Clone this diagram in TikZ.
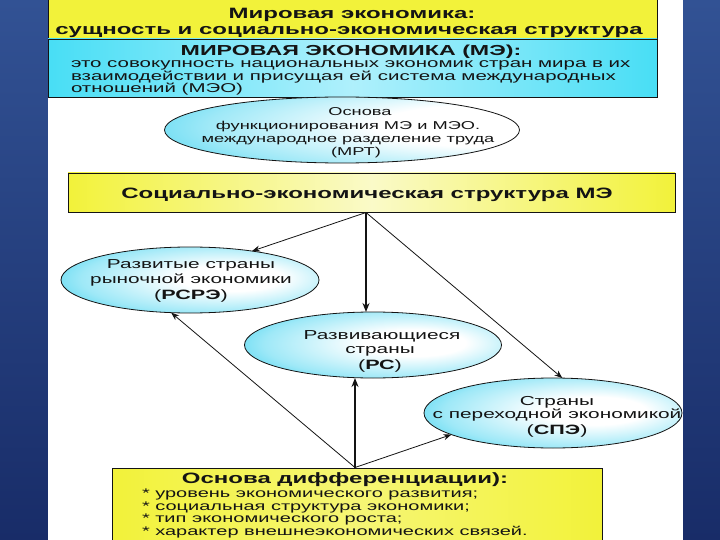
\documentclass[tikz,border=0pt]{standalone}
\usepackage{fontspec}
\setmainfont{Liberation Sans}[FakeStretch=1.6]
\usetikzlibrary{arrows.meta,shapes.geometric}
\definecolor{navyT}{RGB}{50,82,148}
\definecolor{navyB}{RGB}{24,44,104}
\definecolor{yel}{RGB}{242,242,58}
\definecolor{yelpale}{RGB}{250,250,200}
\definecolor{cyB}{RGB}{72,222,245}
\definecolor{cyL}{RGB}{175,240,252}
\definecolor{cyE}{RGB}{40,205,238}
\definecolor{ink}{RGB}{20,20,20}
\pgfdeclareradialshading{ellA}{\pgfpoint{10bp}{2bp}}{color(0bp)=(white); color(10bp)=(white); color(26bp)=(cyE!45!white); color(38bp)=(cyE); color(50bp)=(cyE)}
\pgfdeclareradialshading{ellB}{\pgfpoint{26bp}{4bp}}{color(0bp)=(white); color(16bp)=(white); color(34bp)=(cyE!45!white); color(50bp)=(cyE); color(80bp)=(cyE)}
\newcommand{\fsz}[1]{\fontsize{#1}{#1}\selectfont}
\tikzset{
  box/.style={draw=ink, line width=0.9pt, rectangle, inner sep=0pt, outer sep=0pt},
  ell/.style={draw=ink, line width=0.8pt, ellipse, inner sep=0pt, outer sep=0pt, shading=ellA},
  tx/.style={inner sep=0pt, outer sep=0pt, text=ink, anchor=base},
  txl/.style={tx, anchor=base west},
  conn/.style={draw=ink, line width=0.8pt, -{Stealth[length=8pt,width=6pt]}},
  connT/.style={draw=ink, line width=1.5pt, -{Stealth[length=9pt,width=7pt]}}
}
\begin{document}
\begin{tikzpicture}[x=1pt,y=-1pt]
\useasboundingbox (0,0) rectangle (720,540);
\shade[top color=navyT,bottom color=navyB] (0,0) rectangle (720,540);
\fill[white] (48,0) rectangle (683,540);

% boxes
\node[box, fill=yel, minimum width=609, minimum height=41] (title) at (352.5,19) {};
\node[box, left color=cyB, right color=cyB, middle color=cyL, minimum width=609, minimum height=58] (def) at (352.5,68) {};
\node[box, left color=yel, right color=yel, middle color=yelpale, minimum width=607, minimum height=39] (struct) at (371.5,192.5) {};
\node[box, left color=yel, right color=yel, middle color=yel!70!white, minimum width=490, minimum height=80] (diff) at (357,508) {};

% ellipses
\node[ell, shading=ellB, minimum width=355, minimum height=66] (mrt) at (342,130) {};
\node[ell, minimum width=258, minimum height=66] (rsre) at (190,280) {};
\node[ell, minimum width=257, minimum height=66] (rs) at (373,345) {};
\node[ell, minimum width=258, minimum height=70] (spe) at (553,413) {};

% texts
\node[tx, font=\fsz{15}\bfseries] (t1) at (352,18.5) {Мировая экономика:};
\node[tx, font=\fsz{15}\bfseries] (t2) at (349,34.5) {сущность и социально-экономическая структура};
\node[tx, font=\fsz{14.5}\bfseries] (t3) at (351,55.5) {МИРОВАЯ ЭКОНОМИКА (МЭ):};
\node[txl, font=\fsz{12.8}] (t4) at (71,68) {это совокупность национальных экономик стран мира в их};
\node[txl, font=\fsz{12.8}] (t5) at (71,80.5) {взаимодействии и присущая ей система международных};
\node[txl, font=\fsz{12.8}] (t6) at (71,93) {отношений (МЭО)};

\node[tx, font=\fsz{11.4}] (m1) at (360,115.5) {Основа};
\node[tx, font=\fsz{11.4}] (m2) at (348,129.5) {функционирования МЭ и МЭО.};
\node[tx, font=\fsz{11.4}] (m3) at (348,143) {международное разделение труда};
\node[tx, font=\fsz{11.4}] (m4) at (356,156) {(МРТ)};

\node[tx, font=\fsz{15}\bfseries] (s1) at (367,199) {Социально-экономическая структура МЭ};

\node[tx, font=\fsz{13}] (r1) at (191,268) {Развитые страны};
\node[tx, font=\fsz{13}] (r2) at (191,283) {рыночной экономики};
\node[tx, font=\fsz{13.5}] (r3) at (191,299) {(\textbf{РСРЭ})};

\node[tx, font=\fsz{13}] (p1) at (382,339) {Развивающиеся};
\node[tx, font=\fsz{13}] (p2) at (380,353) {страны};
\node[tx, font=\fsz{13.5}] (p3) at (380,369) {(\textbf{РС})};

\node[tx, font=\fsz{13}] (c1) at (557,405.5) {Страны};
\node[tx, font=\fsz{13}] (c2) at (557,418.5) {с переходной экономикой};
\node[tx, font=\fsz{13.5}] (c3) at (557,434.5) {(\textbf{СПЭ})};

\node[tx, font=\fsz{15}\bfseries] (b1) at (345,483) {Основа дифференциации):};
\node[txl, font=\fsz{12.5}] (b2) at (142,497) {* уровень экономического развития;};
\node[txl, font=\fsz{12.5}] (b3) at (142,510) {* социальная структура экономики;};
\node[txl, font=\fsz{12.5}] (b4) at (142,522.5) {* тип экономического роста;};
\node[txl, font=\fsz{12.5}] (b5) at (142,535) {* характер внешнеэкономических связей.};

% connectors
\coordinate (o1) at (366,212.5);
\coordinate (o2) at (355,467.5);
\draw[conn] (o1) -- (rsre.25);
\draw[connT] (o1) -- (o1 |- rs.north);
\draw[conn] (o1) -- (spe.75);
\draw[connT] (o2) -- (o2 |- rs.south);
\draw[conn] (o2) -- (spe.192);
\draw[conn] (o2) -- (rsre.240);
\end{tikzpicture}
\end{document}
